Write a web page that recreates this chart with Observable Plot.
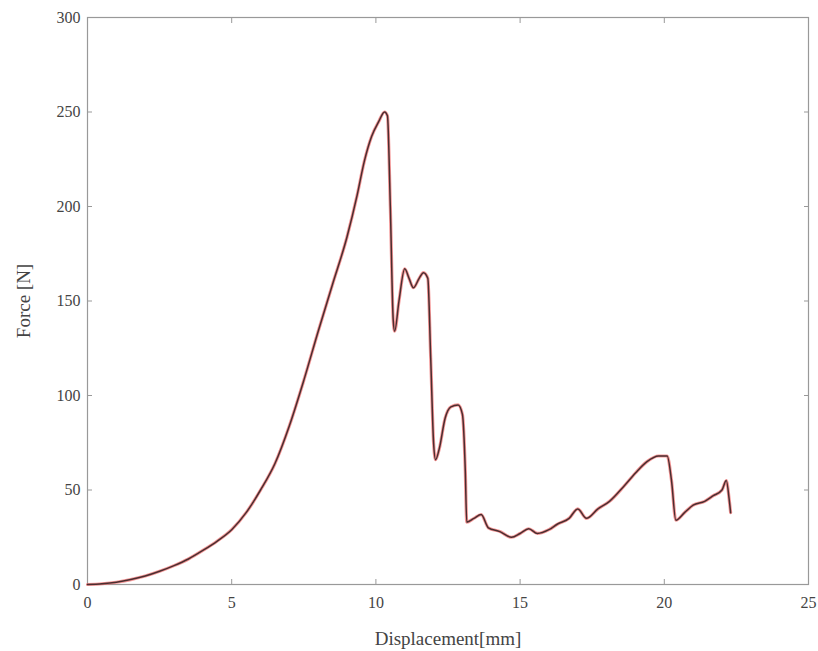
<!DOCTYPE html>
<html>
<head>
<meta charset="utf-8">
<script src="https://cdn.jsdelivr.net/npm/d3@7"></script>
<script src="https://cdn.jsdelivr.net/npm/@observablehq/plot@0.6"></script>
<style>
  html, body { margin: 0; padding: 0; background: #fff; }
  #chart { width: 818px; height: 651px; }
</style>
</head>
<body>
<div id="chart"></div>
<script>
// Displacement [mm]
const displacement = [
  0, 0.5, 1, 1.5, 2, 2.5, 3, 3.5, 4, 4.5, 5, 5.5, 6, 6.5, 7, 7.5,
  8, 8.5, 9, 9.35, 9.6, 9.85, 10.1, 10.3, 10.4, 10.5, 10.6, 10.65,
  10.8, 11.0, 11.15, 11.3, 11.5, 11.65, 11.8, 11.9, 12.0, 12.07, 12.2, 12.4, 12.6, 12.85,
  13.0, 13.1, 13.15, 13.4, 13.65, 13.9, 14.3, 14.7, 15.0, 15.3, 15.6, 16.0, 16.3, 16.7,
  17.0, 17.3, 17.7, 18.1, 18.6, 19.0, 19.4, 19.8, 20.1, 20.25, 20.4, 20.7, 21.0, 21.4,
  21.7, 22.0, 22.15, 22.25, 22.3
];
// Force [N]
const force = [
  0, 0.4, 1.2, 2.6, 4.5, 7, 10, 13.5, 18, 23, 29, 38, 50, 64, 84, 108,
  134, 159, 184, 206, 224, 237, 245, 250, 248, 200, 140, 134,
  150, 167, 162, 157, 162, 165, 162, 120, 75, 66, 72, 88, 94, 95,
  90, 60, 33, 35, 37, 30, 28, 25, 27, 29.5, 27, 29, 32, 35,
  40, 35, 40, 44, 52, 59, 65, 68, 68, 55, 34, 38, 42, 44,
  47, 50, 55, 45, 38
];
const xTicks = [0, 5, 10, 15, 20, 25];
const yTicks = [0, 50, 100, 150, 200, 250, 300];

const data = displacement.map((d, i) => ({d, f: force[i]}));

const chart = Plot.plot({
  width: 818,
  height: 651,
  marginLeft: 87,
  marginRight: 10,
  marginTop: 17,
  marginBottom: 67,
  style: {fontFamily: "'Liberation Serif', 'DejaVu Serif', serif", fontSize: "16px", color: "#444", background: "#fff"},
  x: {domain: [0, 25]},
  y: {domain: [0, 300]},
  marks: [
    Plot.frame({stroke: "#999", strokeWidth: 1.2}),
    Plot.axisX(xTicks, {anchor: "bottom", tickSize: 0, tickPadding: 12, fontSize: 16,
      label: "Displacement[mm]", labelAnchor: "center", labelArrow: "none", labelOffset: 60}),
    Plot.axisY(yTicks, {anchor: "left", tickSize: 0, tickPadding: 7, fontSize: 16,
      label: "Force [N]", labelAnchor: "center", labelArrow: "none", labelOffset: 71}),
    Plot.axisX(xTicks, {anchor: "bottom", tickSize: -5, tickFormat: () => "", label: null, stroke: "#999"}),
    Plot.axisX(xTicks, {anchor: "top", tickSize: -5, tickFormat: () => "", label: null, stroke: "#999"}),
    Plot.axisY(yTicks, {anchor: "left", tickSize: -5, tickFormat: () => "", label: null, stroke: "#999"}),
    Plot.axisY(yTicks, {anchor: "right", tickSize: -5, tickFormat: () => "", label: null, stroke: "#999"}),
    Plot.line(data, {x: "d", y: "f", stroke: "#f06a6a", strokeWidth: 3.2, strokeOpacity: 0.7, curve: "monotone-x"}),
    Plot.line(data, {x: "d", y: "f", stroke: "#4a2e30", strokeWidth: 1.5, curve: "monotone-x"})
  ]
});
chart.querySelectorAll("[aria-label$='axis label'] text").forEach(t => t.style.fontSize = "19px");
document.getElementById("chart").appendChild(chart);
</script>
</body>
</html>
